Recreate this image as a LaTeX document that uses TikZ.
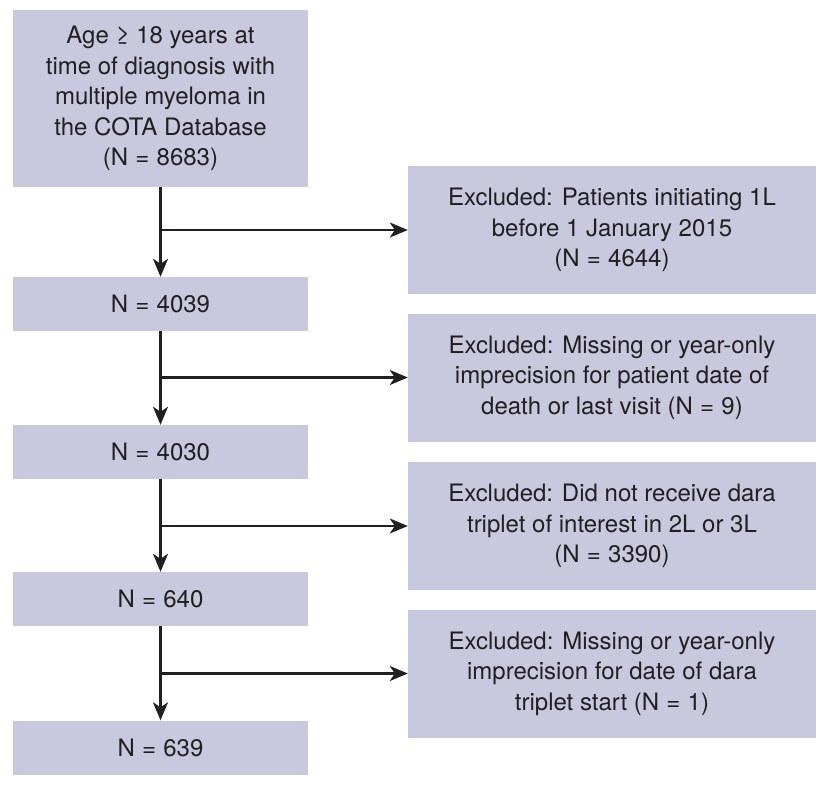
\documentclass[tikz,border=0pt]{standalone}
\usepackage{fontspec}
\setmainfont{TeX Gyre Heros}
\usetikzlibrary{arrows.meta}
\definecolor{boxfill}{RGB}{200,200,222}
\definecolor{txt}{RGB}{35,31,32}
\newcommand{\eqsign}{\hspace{0.3em}=\hspace{0.3em}}
\tikzset{
  box/.style={rectangle, fill=boxfill, draw=none, align=center, text=txt,
    font=\fontsize{24}{30.5}\selectfont, inner sep=0pt},
  lbox/.style={box, minimum width=295pt},
  rbox/.style={box, minimum width=408pt},
  arr/.style={draw=txt, line width=2.2pt, -{Stealth[length=18pt,width=15pt,inset=5pt]}}
}
\begin{document}
\begin{tikzpicture}[x=1pt,y=-1pt]
\useasboundingbox (0,0) rectangle (831,790);
\node[lbox, minimum height=177pt] (b1) at (160.5,98.5) {Age ≥ 18 years at\\time of diagnosis with\\multiple myeloma in\\the COTA Database\\(N\eqsign8683)};
\node[lbox, minimum height=54pt] (b2) at (160.5,304) {N\eqsign4039};
\node[lbox, minimum height=54pt] (b3) at (160.5,452) {N\eqsign4030};
\node[lbox, minimum height=54pt] (b4) at (160.5,599) {N\eqsign640};
\node[lbox, minimum height=54pt] (b5) at (160.5,747.5) {N\eqsign639};
\node[rbox, minimum height=128pt] (r1) at (612,230) {Excluded: Patients initiating 1L\\before 1 January 2015\\(N\eqsign4644)};
\node[rbox, minimum height=128pt] (r2) at (612,377.5) {Excluded: Missing or year-only\\imprecision for patient date of\\death or last visit (N\eqsign9)};
\node[rbox, minimum height=128pt] (r3) at (612,526) {Excluded: Did not receive dara\\triplet of interest in 2L or 3L\\(N\eqsign3390)};
\node[rbox, minimum height=128pt] (r4) at (612,673.5) {Excluded: Missing or year-only\\imprecision for date of dara\\triplet start (N\eqsign1)};
\draw[arr] (b1.south) -- (b2.north);
\draw[arr] (b2.south) -- (b3.north);
\draw[arr] (b3.south) -- (b4.north);
\draw[arr] (b4.south) -- (b5.north);
\draw[arr] (b1.south |- r1.west) -- (r1.west);
\draw[arr] (b2.south |- r2.west) -- (r2.west);
\draw[arr] (b3.south |- r3.west) -- (r3.west);
\draw[arr] (b4.south |- r4.west) -- (r4.west);
\end{tikzpicture}
\end{document}
